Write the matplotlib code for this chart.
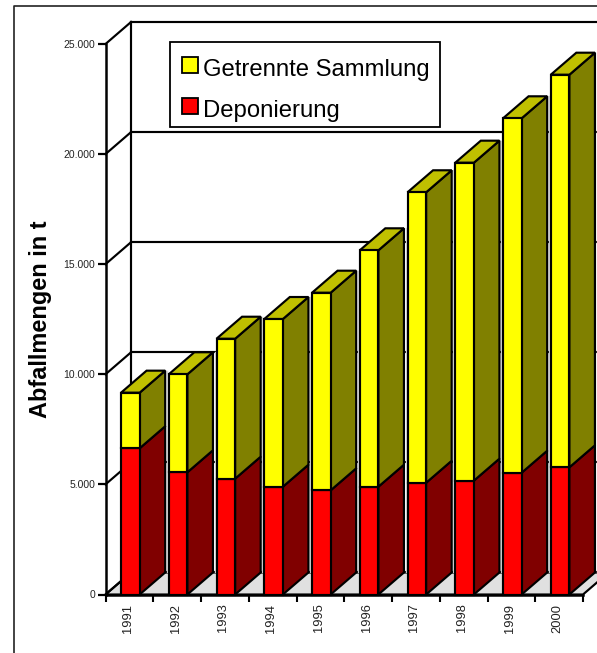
import matplotlib
matplotlib.use("Agg")
import matplotlib.pyplot as plt
from matplotlib.legend_handler import HandlerPatch
from matplotlib.lines import Line2D
from matplotlib.patches import Patch, Rectangle

plt.rcParams['font.family'] = ['Liberation Sans', 'DejaVu Sans']

# values (t)
years = ['1991', '1992', '1993', '1994', '1995', '1996', '1997', '1998', '1999', '2000']
deponierung = [6640, 5550, 5260, 4895, 4730, 4895, 5075, 5170, 5530, 5775]
getrennt = [2525, 4450, 6355, 7615, 8975, 10735, 13190, 14440, 16095, 17830]
y_ticks = [0, 5000, 10000, 15000, 20000, 25000]
y_tick_labels = ['0', '5.000', '10.000', '15.000', '20.000', '25.000']

# fake 3d depth, in data units
depth_x = 0.535
depth_y = 1000
bar_left = 0.325
bar_w = 0.39
edge = 1.55

W, H = 597, 653
fig = plt.figure(figsize=(W / 100, H / 100), dpi=100)
ax = fig.add_axes([105.5 / W, (H - 594.5) / H, 477.5 / W, 550.5 / H])
ax.set_xlim(0, 10)
ax.set_ylim(0, 25000)
ax.patch.set_alpha(0)

n = len(years)

# floor
ax.fill([0, depth_x, n + depth_x, n], [0, depth_y, depth_y, 0], facecolor='#e0e0e0',
        edgecolor='black', lw=edge, zorder=1, clip_on=False)

# back wall lines and left wall diagonals
for v in y_ticks:
    ax.plot([0, depth_x], [v, v + depth_y], color='black', lw=edge, zorder=1, clip_on=False)
    ax.plot([depth_x, n + depth_x], [v + depth_y, v + depth_y], color='black', lw=edge, zorder=1, clip_on=False)
ax.plot([depth_x, depth_x], [depth_y, 25000 + depth_y], color='black', lw=edge, zorder=1, clip_on=False)


def side_face(x, low, high, colour, z):
    xs = [x, x + depth_x, x + depth_x, x]
    ys = [low, low + depth_y, high + depth_y, high]
    ax.fill(xs, ys, facecolor=colour, edgecolor='black', lw=edge, joinstyle='miter', zorder=z, clip_on=False)


for i in range(n):
    left = i + bar_left
    right = left + bar_w
    total = deponierung[i] + getrennt[i]
    z = 3 + i
    # light halo right of the bar, as in the original
    ax.plot([right + depth_x + 0.035] * 2, [depth_y, total + depth_y], color='#d8d8d8', lw=1.0, zorder=z - 0.5, clip_on=False)
    side_face(right, 0, deponierung[i], '#800000', z)
    side_face(right, deponierung[i], total, '#808000', z)
    ax.fill([left, left + depth_x, right + depth_x, right],
            [total, total + depth_y, total + depth_y, total],
            facecolor='#c0c000', edgecolor='black', lw=edge, joinstyle='miter', zorder=z, clip_on=False)
    ax.bar(left, deponierung[i], width=bar_w, align='edge', color='#ff0000', edgecolor='black', lw=edge, zorder=z + 0.1, clip_on=False)
    ax.bar(left, getrennt[i], bottom=deponierung[i], width=bar_w, align='edge', color='#ffff00', edgecolor='black', lw=edge, zorder=z + 0.1, clip_on=False)

# axes
for s in ['top', 'right']:
    ax.spines[s].set_visible(False)
for s in ['left', 'bottom']:
    ax.spines[s].set_linewidth(1.8)
    ax.spines[s].set_zorder(20)

ax.set_yticks(y_ticks)
ax.set_yticklabels(y_tick_labels, fontsize=7.5, color='#222222')
ax.tick_params(axis='y', length=6, width=1.6, pad=1.5)

ax.set_xticks([i + 0.47 for i in range(n)])
ax.set_xticklabels(years, rotation=90, fontsize=9.3, color='#222222')
ax.set_xticks(range(n + 1), minor=True)
ax.tick_params(axis='x', which='major', length=0, pad=6.5)
ax.tick_params(axis='x', which='minor', length=5, width=1.5)

ax.set_ylabel('Abfallmengen in t', fontsize=16.9, fontweight='bold', labelpad=8)

# legend box drawn apart so the rows can sit as in the original
ax.add_patch(Rectangle((169.5 / W, (H - 127) / H), 270.5 / W, 84.5 / H, transform=fig.transFigure,
                       facecolor='white', edgecolor='black', lw=1.3, zorder=25, clip_on=False))


def raised_swatch(legend, orig_handle, xdescent, ydescent, width, height, fontsize):
    # swatch sits a little above the text baseline
    return Rectangle((-xdescent, 2.5), width, 11.5)


handles = [Patch(facecolor='#ffff00', edgecolor='black', lw=1.3),
           Patch(facecolor='#ff0000', edgecolor='black', lw=1.3)]
leg = ax.legend(handles, ['Getrennte Sammlung', 'Deponierung'], loc='upper left',
                bbox_to_anchor=(181.5 / W, (H - 59) / H), bbox_transform=fig.transFigure,
                fontsize=17.2, frameon=False, borderpad=0, borderaxespad=0, labelspacing=0.8,
                handlelength=0.67, handletextpad=0.24,
                handler_map={Patch: HandlerPatch(patch_func=raised_swatch)})
leg.set_zorder(30)

# outer border of the picture
fig.add_artist(Line2D([13.5 / W, 13.5 / W, 1], [0, (H - 6) / H, (H - 6) / H], color='#222222', lw=1.2))

fig.savefig('out.png', dpi=100)
